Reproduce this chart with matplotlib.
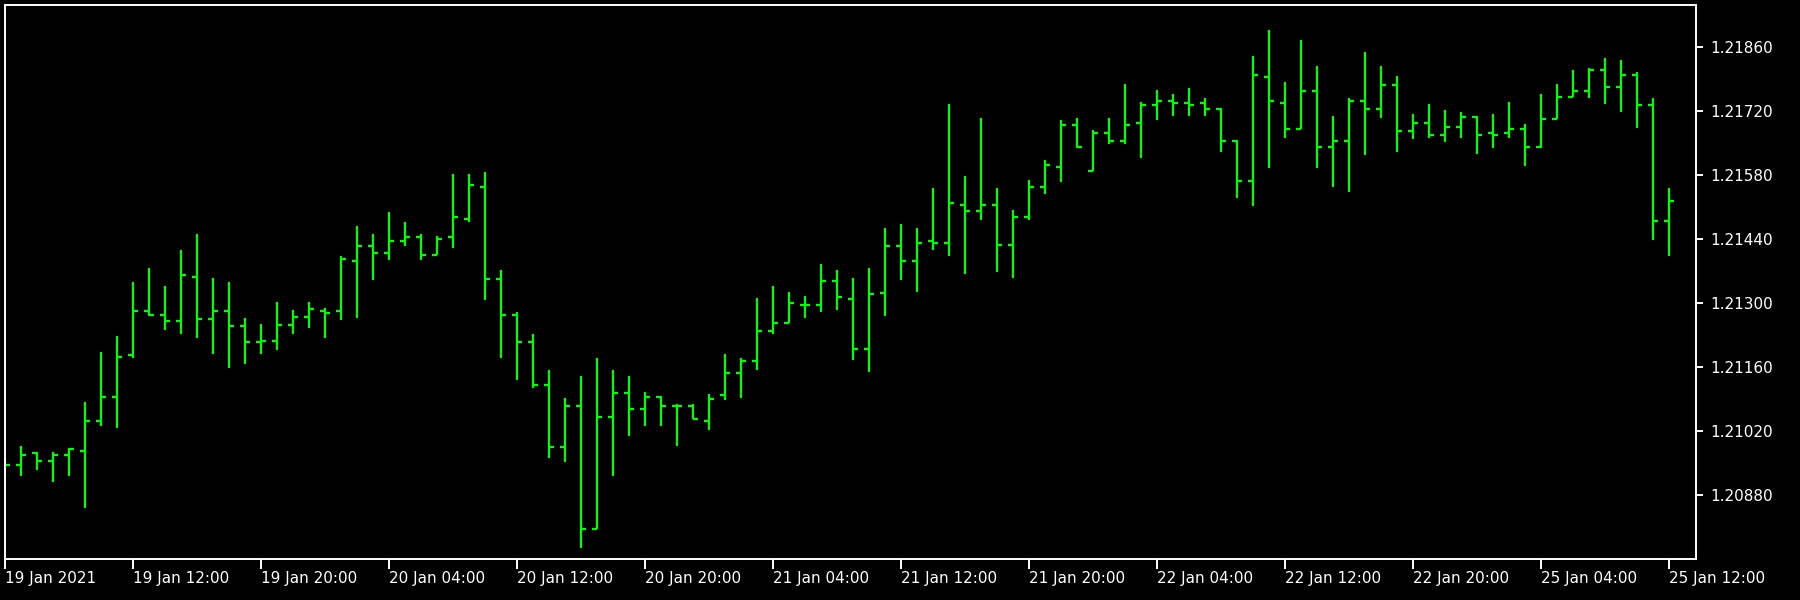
import matplotlib
matplotlib.use('Agg')
import matplotlib.pyplot as plt
import numpy as np

# EURUSD H1 bars, 19 Jan 2021 -> 25 Jan 2021
opens = [1.20950, 1.20945, 1.20972, 1.20954, 1.20967, 1.20976, 1.21042, 1.21094, 1.21186, 1.21282,
         1.21274, 1.21261, 1.21356, 1.21265, 1.21282, 1.21248, 1.21213, 1.21217, 1.21252, 1.21269,
         1.21282, 1.21282, 1.21392, 1.21423, 1.21409, 1.21436, 1.21444, 1.21405, 1.21444, 1.21484,
         1.21554, 1.21352, 1.21274, 1.21213, 1.21121, 1.20985, 1.21073, 1.20806, 1.21051, 1.21103,
         1.21068, 1.21094, 1.21073, 1.21073, 1.21042, 1.21099, 1.21147, 1.21173, 1.21239, 1.21256,
         1.21296, 1.21296, 1.21348, 1.21309, 1.21199, 1.21322, 1.21423, 1.21392, 1.21436, 1.21431,
         1.21514, 1.21501, 1.21514, 1.21427, 1.21488, 1.21554, 1.21597, 1.21689, 1.21588, 1.21671,
         1.21654, 1.21693, 1.21732, 1.21741, 1.21737, 1.21737, 1.21724, 1.21654, 1.21566, 1.21794,
         1.21737, 1.21680, 1.21763, 1.21641, 1.21654, 1.21741, 1.21724, 1.21776, 1.21676, 1.21693,
         1.21667, 1.21684, 1.21706, 1.21671, 1.21671, 1.21680, 1.21641, 1.21702, 1.21750, 1.21763,
         1.21808, 1.21772, 1.21799, 1.21732, 1.21479]

highs = [1.20960, 1.20987, 1.20973, 1.20973, 1.20982, 1.21083, 1.21192, 1.21227, 1.21345, 1.21376,
         1.21336, 1.21415, 1.21450, 1.21354, 1.21345, 1.21267, 1.21253, 1.21302, 1.21284, 1.21302,
         1.21288, 1.21402, 1.21468, 1.21450, 1.21498, 1.21477, 1.21450, 1.21446, 1.21582, 1.21582,
         1.21586, 1.21372, 1.21280, 1.21232, 1.21153, 1.21092, 1.21140, 1.21179, 1.21153, 1.21140,
         1.21105, 1.21096, 1.21078, 1.21078, 1.21100, 1.21188, 1.21179, 1.21310, 1.21336, 1.21323,
         1.21315, 1.21385, 1.21372, 1.21354, 1.21376, 1.21463, 1.21472, 1.21463, 1.21551, 1.21735,
         1.21577, 1.21704, 1.21551, 1.21503, 1.21568, 1.21612, 1.21700, 1.21704, 1.21678, 1.21704,
         1.21778, 1.21739, 1.21765, 1.21757, 1.21770, 1.21748, 1.21726, 1.21656, 1.21840, 1.21897,
         1.21783, 1.21875, 1.21818, 1.21708, 1.21748, 1.21848, 1.21818, 1.21796, 1.21713, 1.21735,
         1.21722, 1.21717, 1.21708, 1.21713, 1.21739, 1.21691, 1.21757, 1.21778, 1.21809, 1.21813,
         1.21835, 1.21831, 1.21805, 1.21748, 1.21551]

lows = [1.20935, 1.20921, 1.20934, 1.20908, 1.20921, 1.20851, 1.21030, 1.21026, 1.21179, 1.21271,
        1.21240, 1.21232, 1.21223, 1.21188, 1.21157, 1.21166, 1.21188, 1.21197, 1.21232, 1.21245,
        1.21223, 1.21262, 1.21267, 1.21350, 1.21393, 1.21424, 1.21393, 1.21404, 1.21420, 1.21477,
        1.21306, 1.21179, 1.21131, 1.21113, 1.20960, 1.20952, 1.20763, 1.20805, 1.20921, 1.21008,
        1.21030, 1.21030, 1.20987, 1.21046, 1.21022, 1.21087, 1.21092, 1.21153, 1.21232, 1.21256,
        1.21267, 1.21280, 1.21284, 1.21175, 1.21148, 1.21271, 1.21350, 1.21323, 1.21415, 1.21402,
        1.21363, 1.21481, 1.21367, 1.21354, 1.21481, 1.21538, 1.21565, 1.21639, 1.21587, 1.21648,
        1.21647, 1.21617, 1.21700, 1.21708, 1.21708, 1.21708, 1.21630, 1.21529, 1.21512, 1.21595,
        1.21660, 1.21680, 1.21595, 1.21552, 1.21543, 1.21622, 1.21705, 1.21630, 1.21657, 1.21661,
        1.21652, 1.21661, 1.21626, 1.21639, 1.21661, 1.21600, 1.21639, 1.21702, 1.21750, 1.21748,
        1.21735, 1.21718, 1.21683, 1.21438, 1.21403]

closes = [1.20945, 1.20967, 1.20954, 1.20967, 1.20981, 1.21042, 1.21094, 1.21182, 1.21282, 1.21274,
          1.21261, 1.21361, 1.21265, 1.21282, 1.21248, 1.21213, 1.21217, 1.21252, 1.21269, 1.21287,
          1.21278, 1.21396, 1.21423, 1.21409, 1.21436, 1.21444, 1.21405, 1.21440, 1.21488, 1.21558,
          1.21352, 1.21274, 1.21213, 1.21121, 1.20985, 1.21073, 1.20806, 1.21051, 1.21103, 1.21068,
          1.21094, 1.21073, 1.21073, 1.21046, 1.21090, 1.21147, 1.21173, 1.21239, 1.21256, 1.21300,
          1.21296, 1.21348, 1.21313, 1.21199, 1.21318, 1.21423, 1.21392, 1.21431, 1.21431, 1.21519,
          1.21501, 1.21514, 1.21427, 1.21488, 1.21554, 1.21602, 1.21689, 1.21641, 1.21671, 1.21654,
          1.21689, 1.21732, 1.21741, 1.21737, 1.21732, 1.21724, 1.21654, 1.21566, 1.21798, 1.21741,
          1.21680, 1.21763, 1.21641, 1.21654, 1.21741, 1.21724, 1.21776, 1.21676, 1.21693, 1.21667,
          1.21684, 1.21706, 1.21667, 1.21667, 1.21680, 1.21641, 1.21702, 1.21750, 1.21763, 1.21808,
          1.21772, 1.21799, 1.21732, 1.21479, 1.21522]

time_labels = ['19 Jan 2021', '19 Jan 12:00', '19 Jan 20:00', '20 Jan 04:00', '20 Jan 12:00',
               '20 Jan 20:00', '21 Jan 04:00', '21 Jan 12:00', '21 Jan 20:00', '22 Jan 04:00',
               '22 Jan 12:00', '22 Jan 20:00', '25 Jan 04:00', '25 Jan 12:00']

price_ticks = [1.20880, 1.21020, 1.21160, 1.21300, 1.21440, 1.21580, 1.21720, 1.21860]


def ohlcChart():
    bar_color = '#00ff00'
    tick_w = 0.31  # open/close tick length in bar units
    lw = 1.6

    fig = plt.figure(figsize=(18, 6), dpi=100, facecolor='black')
    ax = fig.add_axes([5 / 1800, 41.3 / 600, 1691 / 1800, 554.1 / 600], facecolor='black')

    x = np.arange(len(opens))

    ax.vlines(x, lows, highs, color=bar_color, linewidth=lw)
    ax.hlines(opens, x - tick_w, x, color=bar_color, linewidth=lw)  # open on left
    ax.hlines(closes, x, x + tick_w, color=bar_color, linewidth=lw)  # close on right

    ax.set_xlim(0, 105.7)
    ax.set_ylim(1.20740, 1.21952)

    # time scale, one label every 8 bars
    ax.set_xticks(np.arange(len(time_labels)) * 8)
    ax.set_xticklabels(time_labels, ha='left')
    ax.tick_params(axis='x', colors='white', length=7, width=1.4, pad=2, labelsize=11)

    # price scale on the right
    ax.yaxis.tick_right()
    ax.set_yticks(price_ticks)
    ax.set_yticklabels(['%.5f' % p for p in price_ticks])
    ax.tick_params(axis='y', colors='white', length=5, width=1.4, pad=5, labelsize=11)

    for s in ax.spines.values():
        s.set_color('white')
        s.set_linewidth(1.4)

    fig.savefig('out.png', dpi=100, facecolor='black')


if __name__ == '__main__':
    ohlcChart()
